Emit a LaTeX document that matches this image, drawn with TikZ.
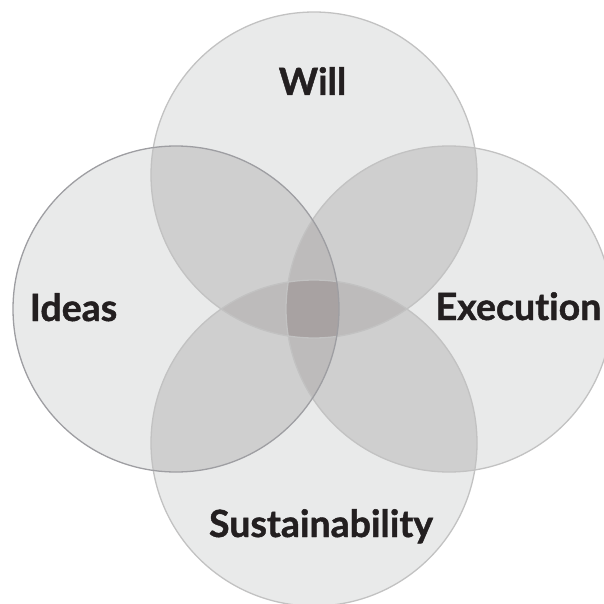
\documentclass[tikz,border=0pt]{standalone}
\usepackage{fontspec}
\setmainfont{Lato}[Ligatures=NoCommon, BoldFeatures={FakeBold=1.2}]
\definecolor{one}{HTML}{E9EAEA}
\definecolor{two}{HTML}{CFCFCF}
\definecolor{three}{HTML}{BDBBBB}
\definecolor{four}{HTML}{A8A2A2}
\definecolor{rim}{HTML}{C2C2C2}
\definecolor{rimdark}{HTML}{9E9EA2}
\definecolor{ink}{HTML}{231F20}
\tikzset{
  lbl/.style={font=\fontsize{37.5}{44}\selectfont\bfseries, text=ink, inner sep=0pt, anchor=base},
  rimline/.style={draw=rim, line width=1.3pt},
}
\begin{document}
\begin{tikzpicture}[x=1pt,y=-1pt]
\def\R{163}
\coordinate (T) at (314,175);
\coordinate (L) at (176,309);
\coordinate (Rt) at (449,309);
\coordinate (B) at (314,443);
\useasboundingbox (0,0) rectangle (604,604);
\clip (0,0) rectangle (604,604);
% single
\foreach \c in {T,L,Rt,B} \fill[one] (\c) circle (\R);
% pairs
\foreach \a/\b in {T/L,T/Rt,B/L,B/Rt,L/Rt,T/B} {
  \begin{scope}\clip (\a) circle (\R); \fill[two] (\b) circle (\R);\end{scope}
}
% triples
\foreach \a/\b/\c in {T/L/Rt,B/L/Rt,T/B/L,T/B/Rt} {
  \begin{scope}\clip (\a) circle (\R); \clip (\b) circle (\R); \fill[three] (\c) circle (\R);\end{scope}
}
% quadruple
\begin{scope}\clip (T) circle (\R); \clip (B) circle (\R); \clip (L) circle (\R); \fill[four] (Rt) circle (\R);\end{scope}
% outlines
\draw[rimline] (T) circle (\R);
\draw[rimline] (Rt) circle (\R);
\draw[rimline] (B) circle (\R);
\draw[rimline, draw=rimdark] (L) circle (\R);
% labels
\node[lbl] (will) at (312.5,95) {Will};
\node[lbl] (ideas) at (73.5,321) {Ideas};
\node[lbl] (exec) at (518.5,320) {Execution};
\node[lbl] (sust) at (321,537) {Sustainability};
\end{tikzpicture}
\end{document}
